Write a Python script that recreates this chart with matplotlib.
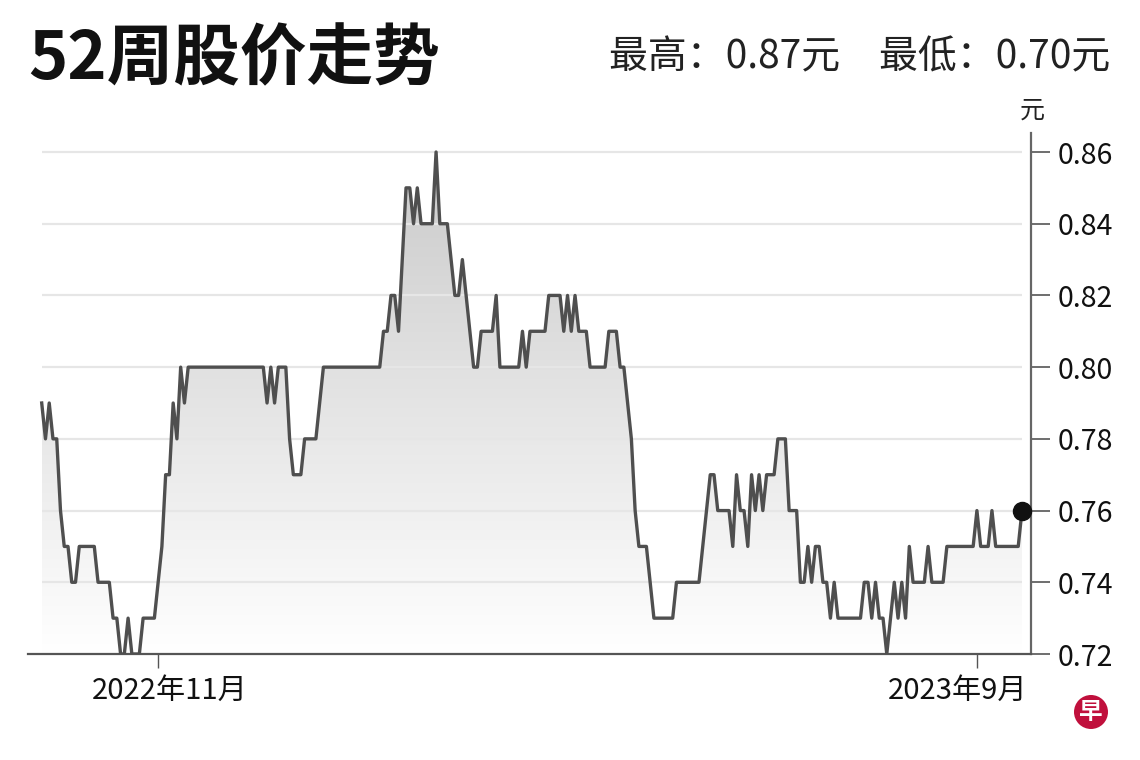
import numpy as np
import pandas as pd
import matplotlib
matplotlib.use("Agg")
import matplotlib.pyplot as plt
from matplotlib.colors import LinearSegmentedColormap
from matplotlib.patches import Ellipse
import matplotlib.transforms as mtransforms

plt.rcParams['font.family'] = ['Noto Sans CJK SC', 'DejaVu Sans']

# ---------------- data ----------------
title = "52周股价走势"
header = "最高：0.87元　最低：0.70元"
unit = "元"
start_date = "2022-09-19"
tick_dates = ["2022-11-01", "2023-09-01"]
tick_labels = ["2022年11月", "2023年9月"]
y_ticks = [0.72, 0.74, 0.76, 0.78, 0.80, 0.82, 0.84, 0.86]

prices = [
    0.79, 0.78, 0.79, 0.78, 0.78, 0.76, 0.75, 0.75, 0.74, 0.74,
    0.75, 0.75, 0.75, 0.75, 0.75, 0.74, 0.74, 0.74, 0.74, 0.73,
    0.73, 0.72, 0.72, 0.73, 0.72, 0.72, 0.72, 0.73, 0.73, 0.73,
    0.73, 0.74, 0.75, 0.77, 0.77, 0.79, 0.78, 0.80, 0.79, 0.80,
    0.80, 0.80, 0.80, 0.80, 0.80, 0.80, 0.80, 0.80, 0.80, 0.80,
    0.80, 0.80, 0.80, 0.80, 0.80, 0.80, 0.80, 0.80, 0.80, 0.80,
    0.79, 0.80, 0.79, 0.80, 0.80, 0.80, 0.78, 0.77, 0.77, 0.77,
    0.78, 0.78, 0.78, 0.78, 0.79, 0.80, 0.80, 0.80, 0.80, 0.80,
    0.80, 0.80, 0.80, 0.80, 0.80, 0.80, 0.80, 0.80, 0.80, 0.80,
    0.80, 0.81, 0.81, 0.82, 0.82, 0.81, 0.83, 0.85, 0.85, 0.84,
    0.85, 0.84, 0.84, 0.84, 0.84, 0.86, 0.84, 0.84, 0.84, 0.83,
    0.82, 0.82, 0.83, 0.82, 0.81, 0.80, 0.80, 0.81, 0.81, 0.81,
    0.81, 0.82, 0.80, 0.80, 0.80, 0.80, 0.80, 0.80, 0.81, 0.80,
    0.81, 0.81, 0.81, 0.81, 0.81, 0.82, 0.82, 0.82, 0.82, 0.81,
    0.82, 0.81, 0.82, 0.81, 0.81, 0.81, 0.80, 0.80, 0.80, 0.80,
    0.80, 0.81, 0.81, 0.81, 0.80, 0.80, 0.79, 0.78, 0.76, 0.75,
    0.75, 0.75, 0.74, 0.73, 0.73, 0.73, 0.73, 0.73, 0.73, 0.74,
    0.74, 0.74, 0.74, 0.74, 0.74, 0.74, 0.75, 0.76, 0.77, 0.77,
    0.76, 0.76, 0.76, 0.76, 0.75, 0.77, 0.76, 0.76, 0.75, 0.77,
    0.76, 0.77, 0.76, 0.77, 0.77, 0.77, 0.78, 0.78, 0.78, 0.76,
    0.76, 0.76, 0.74, 0.74, 0.75, 0.74, 0.75, 0.75, 0.74, 0.74,
    0.73, 0.74, 0.73, 0.73, 0.73, 0.73, 0.73, 0.73, 0.73, 0.74,
    0.74, 0.73, 0.74, 0.73, 0.73, 0.72, 0.73, 0.74, 0.73, 0.74,
    0.73, 0.75, 0.74, 0.74, 0.74, 0.74, 0.75, 0.74, 0.74, 0.74,
    0.74, 0.75, 0.75, 0.75, 0.75, 0.75, 0.75, 0.75, 0.75, 0.76,
    0.75, 0.75, 0.75, 0.76, 0.75, 0.75, 0.75, 0.75, 0.75, 0.75,
    0.75, 0.76,
]

# ---------------- figure ----------------
W, H = 1140, 760
fig = plt.figure(figsize=(W / 100, H / 100), dpi=100)
fig.patch.set_facecolor("white")

ax_left, ax_right, ax_top, ax_bottom = 28, 1031, 133, 654
ax = fig.add_axes([ax_left / W, 1 - ax_bottom / H,
                   (ax_right - ax_left) / W, (ax_bottom - ax_top) / H])

dates = pd.bdate_range(start=start_date, periods=len(prices))
x = np.arange(len(prices))
y = np.array(prices)

ymin, ymax = 0.72, 0.8653

# gradient fill under the line
poly = ax.fill_between(x, y, ymin, facecolor="none", edgecolor="none")
cmap = LinearSegmentedColormap.from_list("g", ["#ffffff", "#c8c8c8"])
grad = np.linspace(1, 0, 256).reshape(-1, 1)
im = ax.imshow(grad, extent=[x[0], x[-1], ymin, ymax], aspect="auto",
               cmap=cmap, origin="upper", zorder=1, interpolation="bilinear")
im.set_clip_path(poly.get_paths()[0], transform=ax.transData)

# gridlines
ax.hlines(y_ticks[1:], x[0], x[-1], colors="#e6e6e6", lw=1.6, zorder=2)

# price line + last dot
ax.plot(x, y, color="#4f4f4f", lw=2.4, zorder=4)
ax.plot(x[-1], y[-1], "o", ms=13, color="#111111", zorder=5, clip_on=False)

ax.set_xlim(-3.65, 263.4)
ax.set_ylim(ymin, ymax)

# spines
for s in ["left", "top"]:
    ax.spines[s].set_visible(False)
ax.spines["right"].set_color("#666666")
ax.spines["right"].set_linewidth(1.6)
ax.spines["bottom"].set_color("#555555")
ax.spines["bottom"].set_linewidth(1.6)

# y axis on right
ax.yaxis.tick_right()
ax.set_yticks(y_ticks)
ax.set_yticklabels([f"{v:.2f}" for v in y_ticks])
ax.tick_params(axis="y", length=14, width=1.2, color="#555555", pad=5,
               labelsize=20.5, labelcolor="#111111")

# x ticks
xt = [dates.get_loc(pd.Timestamp(d)) for d in tick_dates]
ax.set_xticks(xt)
ax.set_xticklabels(tick_labels)
ax.tick_params(axis="x", length=10, width=1.0, color="#555555", pad=6,
               labelsize=21, labelcolor="#111111")
offsets = [12, -19]
for lab, dx in zip(ax.get_xticklabels(), offsets):
    lab.set_transform(lab.get_transform() +
                      mtransforms.ScaledTranslation(dx / 100, 0, fig.dpi_scale_trans))

# texts
fig.text(28 / W, 1 - 60 / H, title, fontsize=48, fontweight="bold",
         ha="left", va="center", color="#111111")
fig.text(1110 / W, 1 - 57 / H, header, fontsize=28, ha="right", va="center",
         color="#222222")
fig.text(1032 / W, 1 - 111 / H, unit, fontsize=18, ha="center", va="center",
         color="#222222")

# logo
cx, cy, r = 1091, 712, 17
fig.add_artist(Ellipse((cx / W, 1 - cy / H), 2 * r / W, 2 * r / H,
                       transform=fig.transFigure, facecolor="#c0103c",
                       edgecolor="none"))
fig.text(cx / W, 1 - cy / H, "早", fontsize=17, fontweight="bold",
         color="white", ha="center", va="center")

fig.savefig("out.png", dpi=100, facecolor="white")
